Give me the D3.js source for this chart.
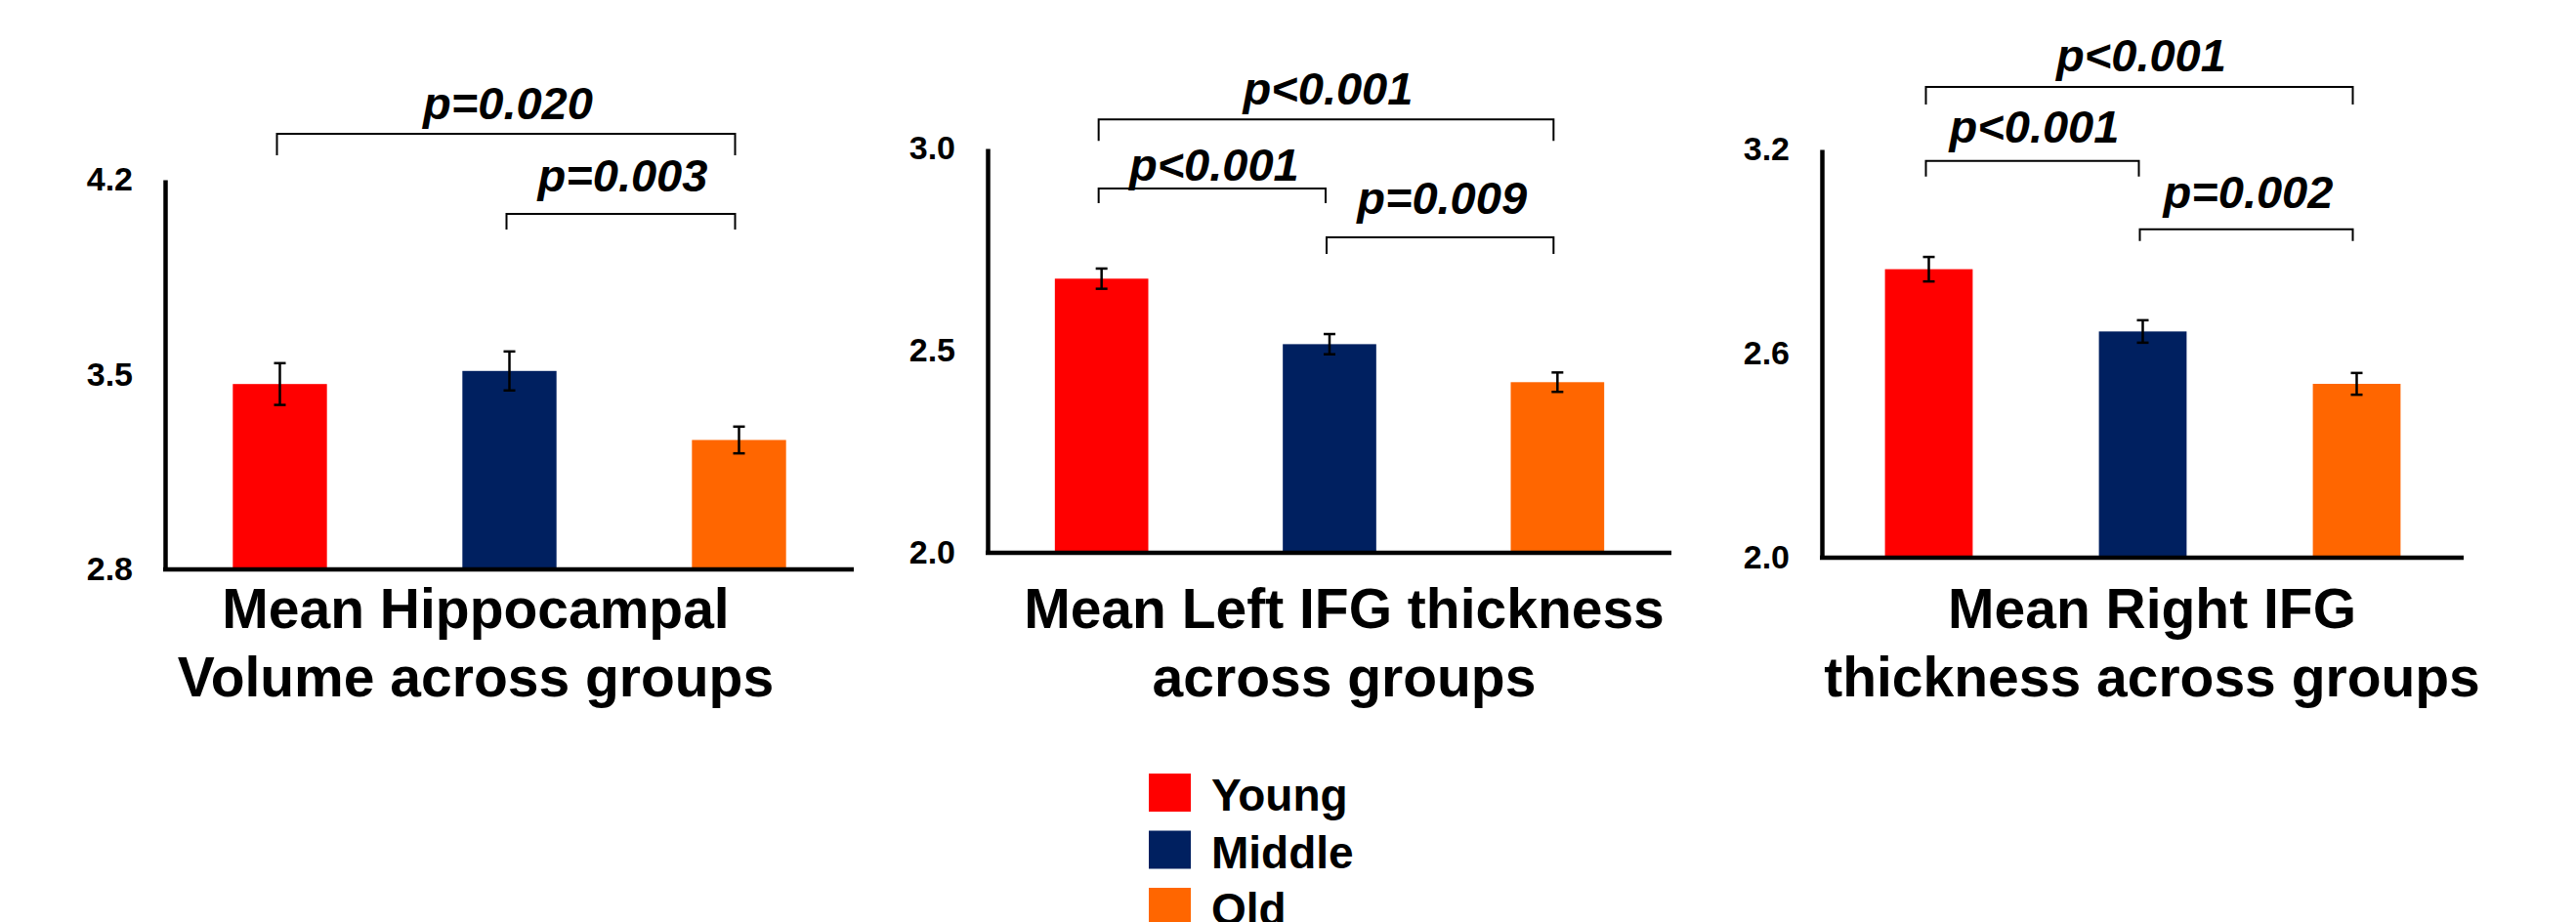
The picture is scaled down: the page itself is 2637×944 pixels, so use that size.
<!DOCTYPE html>
<html>
<head>
<meta charset="utf-8">
<script src="https://cdn.jsdelivr.net/npm/d3@7"></script>
<style>
  html, body { margin: 0; padding: 0; background: #fff; }
  svg { display: block; }
  text { font-family: "Liberation Sans", Arial, sans-serif; fill: #000; }
</style>
</head>
<body>
<svg id="chart" width="2637" height="944"></svg>
<script>
// ---------------- data ----------------
const groups = ["Young", "Middle", "Old"];

const hippoMeans = [3.466, 3.513, 3.265];
const hippoSE    = [0.075, 0.070, 0.048];
const hippoTicks = [2.8, 3.5, 4.2];
const hippoTitle = ["Mean Hippocampal", "Volume across groups"];
const hippoComps = [
  { a: 0, b: 2, label: "p=0.020", level: 4.365 },
  { a: 1, b: 2, label: "p=0.003", level: 4.077 }
];

const leftMeans = [2.678, 2.516, 2.422];
const leftSE    = [0.025, 0.025, 0.024];
const leftTicks = [2.0, 2.5, 3.0];
const leftTitle = ["Mean Left IFG thickness", "across groups"];
const leftComps = [
  { a: 0, b: 2, label: "p<0.001", level: 3.072 },
  { a: 0, b: 1, label: "p<0.001", level: 2.901 },
  { a: 1, b: 2, label: "p=0.009", level: 2.780 }
];

const rightMeans = [2.848, 2.665, 2.511];
const rightSE    = [0.036, 0.033, 0.032];
const rightTicks = [2.0, 2.6, 3.2];
const rightTitle = ["Mean Right IFG", "thickness across groups"];
const rightComps = [
  { a: 0, b: 2, label: "p<0.001", level: 3.384 },
  { a: 0, b: 1, label: "p<0.001", level: 3.166 },
  { a: 1, b: 2, label: "p=0.002", level: 2.965 }
];

// ---------------- styles / layout ----------------
const colors = { Young: "#FF0000", Middle: "#002060", Old: "#FF6600" };

const panels = [
  { means: hippoMeans, se: hippoSE, ticks: hippoTicks, title: hippoTitle, comps: hippoComps,
    x0: 169, x1: 874, yTop: 184, yBot: 583, titleX: 487, labelGap: [15, 23], tickDrop: [22, 16] },
  { means: leftMeans, se: leftSE, ticks: leftTicks, title: leftTitle, comps: leftComps,
    x0: 1011, x1: 1711, yTop: 152, yBot: 566, titleX: 1376, labelGap: [15, 8, 24], tickDrop: [22, 15, 17] },
  { means: rightMeans, se: rightSE, ticks: rightTicks, title: rightTitle, comps: rightComps,
    x0: 1865, x1: 2522, yTop: 153, yBot: 571, titleX: 2203, labelGap: [16, 19, 22], tickDrop: [18, 16, 12] }
];

const svg = d3.select("#chart");

panels.forEach(p => {
  const g = svg.append("g");
  const x = d3.scalePoint().domain(groups).range([p.x0, p.x1]).padding(0.5);
  const y = d3.scaleLinear().domain([d3.min(p.ticks), d3.max(p.ticks)]).range([p.yBot, p.yTop]);
  const bw = x.step() * 0.41;

  // bars
  g.selectAll("rect.bar").data(groups).join("rect")
    .attr("class", "bar")
    .attr("x", d => x(d) - bw / 2)
    .attr("width", bw)
    .attr("y", (d, i) => y(p.means[i]))
    .attr("height", (d, i) => y(d3.min(p.ticks)) - y(p.means[i]))
    .attr("fill", d => colors[d]);

  // error bars
  const capW = 12;
  groups.forEach((d, i) => {
    const cx = x(d);
    const yHi = y(p.means[i] + p.se[i]);
    const yLo = y(p.means[i] - p.se[i]);
    g.append("line").attr("x1", cx).attr("x2", cx).attr("y1", yHi).attr("y2", yLo)
      .attr("stroke", "#000").attr("stroke-width", 2.5);
    [yHi, yLo].forEach(yy => {
      g.append("line").attr("x1", cx - capW / 2).attr("x2", cx + capW / 2).attr("y1", yy).attr("y2", yy)
        .attr("stroke", "#000").attr("stroke-width", 2.5);
    });
  });

  // y axis
  const yAxis = d3.axisLeft(y).tickValues(p.ticks).tickSize(0).tickPadding(33)
    .tickFormat(d3.format(".1f"));
  const ax = g.append("g").attr("transform", `translate(${p.x0},0)`).call(yAxis);
  ax.select(".domain").attr("stroke", "#000").attr("stroke-width", 4.5);
  ax.selectAll(".tick text")
    .style("font-family", '"Liberation Sans", Arial, sans-serif')
    .style("font-size", "34px").style("font-weight", "bold").attr("fill", "#000");

  // x axis
  const xAxis = d3.axisBottom(x).tickSize(0).tickFormat("");
  const xa = g.append("g").attr("transform", `translate(0,${p.yBot})`).call(xAxis);
  xa.select(".domain").attr("d", `M${p.x0 - 2},0H${p.x1}`).attr("stroke", "#000").attr("stroke-width", 4.5);

  // significance brackets
  p.comps.forEach((c, k) => {
    const xa1 = x(groups[c.a]) - 3, xb1 = x(groups[c.b]) - 4;
    const yb = y(c.level);
    g.append("path")
      .attr("d", `M${xa1},${yb + p.tickDrop[k]}V${yb}H${xb1}V${yb + p.tickDrop[k]}`)
      .attr("fill", "none").attr("stroke", "#000").attr("stroke-width", 2);
    g.append("text")
      .attr("x", (xa1 + xb1) / 2 + 2).attr("y", yb - p.labelGap[k])
      .attr("text-anchor", "middle")
      .style("font-size", "47px").style("font-weight", "bold").style("font-style", "italic")
      .text(c.label);
  });

  // title
  p.title.forEach((t, li) => {
    g.append("text").attr("x", p.titleX).attr("y", 643 + li * 70)
      .attr("text-anchor", "middle")
      .style("font-size", "57px").style("font-weight", "bold")
      .text(t);
  });
});

// legend
const legend = svg.append("g");
groups.forEach((d, i) => {
  const top = 792 + i * 58.5;
  legend.append("rect").attr("x", 1176).attr("y", top).attr("width", 43).attr("height", 39)
    .attr("fill", colors[d]);
  legend.append("text").attr("x", 1240).attr("y", top + 38)
    .style("font-size", "46px").style("font-weight", "bold").text(d);
});
</script>
</body>
</html>
